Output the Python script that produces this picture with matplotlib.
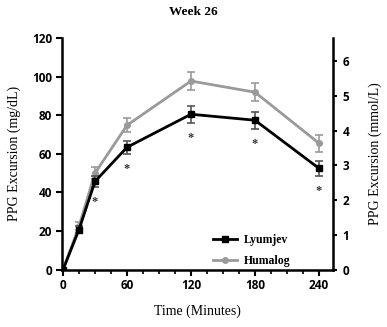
import matplotlib
matplotlib.use("Agg")
import matplotlib.pyplot as plt
from matplotlib.ticker import MultipleLocator

# PPG excursion over time, week 26
time_min = [0, 15, 30, 60, 120, 180, 240]
lyumjev = [0, 20.8, 45.7, 63.4, 80.5, 77.4, 52.5]
lyumjev_err = [0, 2.0, 3.0, 3.5, 4.5, 4.5, 4.0]
humalog = [0, 22.5, 50.0, 74.8, 97.7, 91.9, 65.5]
humalog_err = [0, 2.0, 3.0, 3.5, 4.7, 4.7, 4.5]
signif_times = [30, 60, 120, 180, 240]

MGDL_PER_MMOL = 18.0
serif = "Liberation Serif"
sans = "Open Sans"

fig = plt.figure(figsize=(3.87, 3.27), dpi=100)
ax = fig.add_axes([0.160, 0.175, 0.700, 0.709])

gray = "#9a9a9a"
hum = ax.errorbar(time_min, humalog, yerr=humalog_err, color=gray, marker="o", ms=4,
                  lw=2, elinewidth=1.2, capsize=3, capthick=1.2, zorder=2)
lyu = ax.errorbar(time_min, lyumjev, yerr=lyumjev_err, color="black", marker="s", ms=5,
                  lw=2, elinewidth=1.2, capsize=3, capthick=1.2, ecolor="#555555",
                  zorder=3)

# significance markers below the Lyumjev error bars
for t in signif_times:
    i = time_min.index(t)
    ax.text(t, lyumjev[i] - lyumjev_err[i] - 4.5, "*", ha="center", va="top",
            fontsize=9, fontweight="bold", family=serif, color="#333333")

ax.set_xlim(-1, 253)
ax.set_ylim(0, 120)
ax.set_xticks([0, 60, 120, 180, 240])
ax.xaxis.set_minor_locator(MultipleLocator(15))
ax.set_yticks(range(0, 121, 20))

for side in ["top", "right"]:
    ax.spines[side].set_visible(False)
for side in ["left", "bottom"]:
    ax.spines[side].set_linewidth(1.8)

ax.tick_params(axis="both", which="major", length=4, width=1.5, labelsize=8.5, pad=3)
ax.tick_params(axis="x", which="minor", length=3, width=1.2)
for lbl in ax.get_xticklabels() + ax.get_yticklabels():
    lbl.set_family(sans)
    lbl.set_fontweight("bold")

# secondary axis in mmol/L
ax2 = ax.twinx()
ax2.set_ylim(0, 120 / MGDL_PER_MMOL)
ax2.set_yticks(range(0, 7))
for side in ["top", "left", "bottom"]:
    ax2.spines[side].set_visible(False)
ax2.spines["right"].set_linewidth(1.8)
ax2.tick_params(axis="y", length=3, width=1.5, labelsize=8.5, pad=4)
for lbl in ax2.get_yticklabels():
    lbl.set_family(sans)
    lbl.set_fontweight("bold")

ax.set_xlabel("Time (Minutes)", family=serif, fontsize=10, labelpad=9)
ax.set_ylabel("PPG Excursion (mg/dL)", family=serif, fontsize=10, labelpad=8)
ax2.set_ylabel("PPG Excursion (mmol/L)", family=serif, fontsize=10, labelpad=14)
fig.text(0.5, 0.962, "Week 26", ha="center", va="center", family=serif,
         fontsize=9.5, fontweight="bold")

leg = ax.legend([lyu.lines[0], hum.lines[0]], ["Lyumjev", "Humalog"], loc="lower left",
                bbox_to_anchor=(0.52, -0.035), frameon=False, handlelength=2.0,
                handletextpad=0.6, prop={"family": serif, "weight": "bold", "size": 8.5},
                labelspacing=0.75)

fig.savefig("out.png", dpi=100)
